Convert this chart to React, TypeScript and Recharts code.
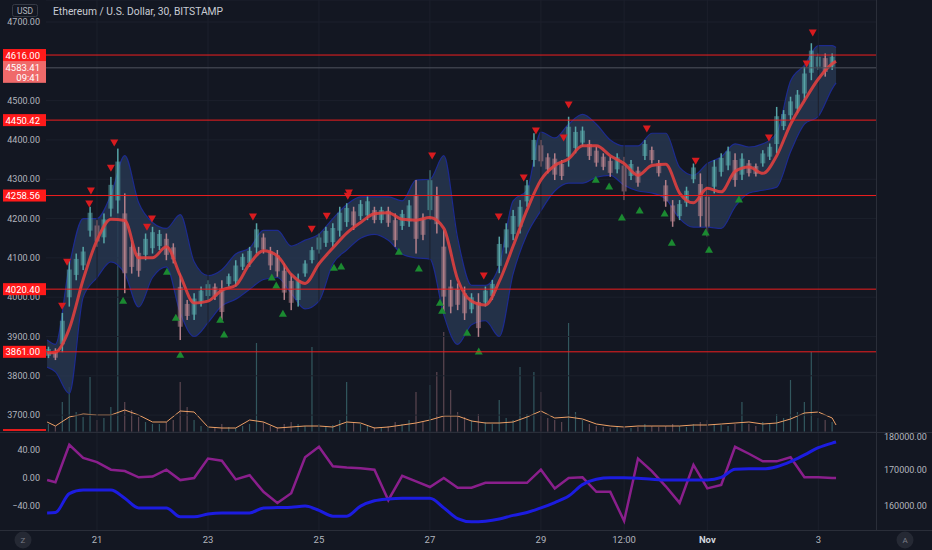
import * as React from 'react';
import {
    ComposedChart,
    Bar,
    Line,
    Area,
    Scatter,
    XAxis,
    YAxis,
    CartesianGrid,
    ReferenceLine
} from 'recharts';

// time axis: days counted from Oct 20 00:00
const timeTicks = [1, 3, 5, 7, 9, 10.5, 12, 14];
const timeLabels = ['21', '23', '25', '27', '29', '12:00', 'Nov', '3'];
const priceTicks = [3700, 3800, 3900, 4000, 4100, 4200, 4300, 4400, 4500, 4700];
const levels = [4616, 4450.42, 4258.56, 4020.4, 3861];
const lastPrice = 4583.41;

// candles every 3h (high / low) and volume
const candleHigh = [
    3874, 3870, 3960, 4094, 4111, 4128, 4230, 4196, 4213, 4306,
    4378, 4264, 4145, 4128, 4162, 4179, 4171, 4162, 4137, 4060,
    3993, 4010, 4027, 4043, 4035, 4043, 4060, 4094, 4111, 4128,
    4188, 4162, 4128, 4120, 4086, 4060, 4060, 4094, 4128, 4162,
    4179, 4188, 4230, 4239, 4230, 4247, 4256, 4230, 4230, 4230,
    4213, 4222, 4247, 4298, 4213, 4323, 4281, 4171, 4044, 4035,
    4027, 4010, 4010, 4027, 4044, 4154, 4188, 4222, 4247, 4298,
    4417, 4400, 4366, 4366, 4349, 4459, 4434, 4434, 4400, 4383,
    4366, 4357, 4366, 4357, 4349, 4332, 4400, 4383, 4349, 4298,
    4247, 4247, 4281, 4340, 4315, 4281, 4349, 4366, 4383, 4366,
    4366, 4349, 4340, 4374, 4391, 4484, 4476, 4510, 4527, 4586,
    4646, 4620, 4620, 4620
];
const candleLow = [
    3845, 3840, 3860, 3976, 4043, 4069, 4154, 4128, 4137, 4205,
    4213, 4010, 4060, 4052, 4094, 4111, 4120, 4094, 4086, 3891,
    3942, 3942, 3976, 3993, 3993, 3942, 4027, 4027, 4069, 4077,
    4111, 4111, 4069, 4052, 3993, 3967, 3976, 4052, 4086, 4111,
    4128, 4128, 4154, 4179, 4171, 4196, 4196, 4188, 4188, 4179,
    4128, 4171, 4179, 4111, 4145, 4196, 4162, 3959, 3959, 3967,
    3942, 3959, 3899, 3976, 3993, 4061, 4111, 4145, 4162, 4230,
    4332, 4332, 4315, 4298, 4298, 4332, 4366, 4383, 4349, 4332,
    4323, 4306, 4315, 4247, 4298, 4281, 4349, 4340, 4307, 4230,
    4179, 4196, 4230, 4290, 4179, 4154, 4264, 4307, 4323, 4281,
    4298, 4307, 4307, 4332, 4349, 4366, 4425, 4451, 4468, 4501,
    4552, 4578, 4561, 4578
];
const volume = [
    8, 6, 30, 45, 20, 15, 55, 12, 14, 25,
    270, 30, 22, 15, 10, 8, 8, 10, 12, 50,
    25, 12, 6, 5, 4, 8, 5, 4, 6, 8,
    89, 10, 6, 5, 8, 10, 8, 6, 85, 8,
    6, 7, 12, 50, 10, 8, 6, 5, 4, 6,
    10, 8, 12, 40, 10, 47, 60, 100, 42, 20,
    15, 12, 18, 10, 8, 32, 14, 12, 65, 18,
    60, 40, 14, 12, 10, 109, 20, 12, 8, 6,
    5, 4, 5, 6, 4, 5, 8, 6, 5, 6,
    8, 6, 5, 8, 10, 12, 8, 7, 6, 8,
    30, 8, 6, 10, 8, 18, 14, 52, 20, 30,
    80, 14, 12, 10
];

// smoother series every 6h
const smoothDays = [0.1, ...Array.from({ length: 57 }, (_, i) => 0.25 * (i + 1)), 14.32];
const maLine = [
    3858, 3860, 3920, 4045, 4145, 4198, 4195, 4100, 4100, 4128,
    4055, 3985, 3990, 4018, 4030, 4085, 4118, 4105, 4058, 4035,
    4085, 4125, 4163, 4190, 4212, 4215, 4198, 4196, 4203, 4175,
    4045, 3990, 3980, 4040, 4130, 4222, 4298, 4335, 4352, 4385,
    4385, 4360, 4340, 4310, 4335, 4338, 4265, 4240, 4277, 4268,
    4320, 4331, 4315, 4360, 4440, 4500, 4555, 4594, 4600
];
const bandUpper = [
    3891, 3880, 4080, 4200, 4200, 4260, 4360, 4240, 4190, 4175,
    4210, 4090, 4055, 4070, 4110, 4125, 4170, 4170, 4130, 4145,
    4160, 4200, 4235, 4255, 4255, 4255, 4245, 4298, 4300, 4360,
    4150, 4030, 4030, 4080, 4245, 4272, 4420, 4405, 4440, 4465,
    4440, 4400, 4385, 4385, 4417, 4417, 4330, 4310, 4340, 4357,
    4390, 4382, 4390, 4417, 4550, 4590, 4640, 4640, 4635
];
const bandLower = [
    3822, 3810, 3755, 4000, 4050, 4090, 4060, 3975, 4050, 4077,
    3960, 3900, 3935, 3978, 3995, 4020, 4045, 4050, 4010, 3970,
    3990, 4085, 4120, 4150, 4160, 4145, 4110, 4100, 4097, 3955,
    3880, 3930, 3940, 3900, 4060, 4160, 4220, 4270, 4290, 4290,
    4305, 4310, 4285, 4270, 4265, 4250, 4200, 4178, 4178, 4175,
    4230, 4265, 4272, 4280, 4370, 4440, 4460, 4530, 4545
];
const volumeMa = [
    10, 6, 15, 18, 17, 17, 22, 17, 10, 10,
    21, 20, 5, 4, 4, 12, 10, 4, 5, 6,
    6, 5, 10, 9, 4, 5, 7, 9, 12, 16,
    16, 11, 9, 9, 10, 15, 21, 14, 15, 13,
    8, 6, 5, 6, 6, 6, 6, 7, 7, 8,
    9, 10, 8, 9, 13, 19, 20, 14, 7
];
const oscValues = [
    -3, -6, 48, 29, 23, 12, 10, 1, 2, 12,
    -3, 0, 28, 25, -2, 4, -20, -36, -22, 30,
    45, 17, 15, 14, 12, -32, 3, -5, -13, 0,
    -14, -14, -7, -7, -7, -7, 12, -15, 0, 1,
    -20, -20, -62, 28, 10, -12, -36, 19, -15, -10,
    45, 35, 24, 24, 30, 1, 1, 0, 0
];
const cumValues = [
    158100, 158200, 163500, 164500, 164500, 164500, 162200, 159500, 159500, 159500,
    157000, 157000, 157800, 158100, 158100, 158100, 159500, 159600, 159700, 160000,
    158800, 157200, 157200, 160000, 161500, 162000, 162200, 162200, 162200, 159500,
    156500, 155600, 155800, 156400, 157400, 158200, 159500, 161000, 162800, 166000,
    167500, 167900, 167900, 167800, 167500, 167300, 167300, 167300, 167300, 168000,
    170300, 170400, 170400, 171000, 172400, 174300, 176300, 177600, 177900
];

// signal markers [day, price]
const sellSignals = [
    [0.37, 3977], [0.46, 4089], [0.86, 4237], [0.89, 4270], [1.25, 4328],
    [1.31, 4392], [1.9, 4178], [1.99, 4199], [3.81, 4204], [4.87, 4173],
    [5.14, 4206], [5.52, 4257], [5.54, 4265], [7.04, 4359], [7.97, 4054],
    [8.24, 4204], [8.69, 4303], [8.91, 4423], [9.41, 4405], [9.5, 4489],
    [10.91, 4428], [11.79, 4346], [13.11, 4405], [13.79, 4593], [13.9, 4672]
];
const buySignals = [
    [1.47, 3992], [2.26, 4066], [2.42, 3949], [2.5, 3855], [3.22, 3944],
    [3.29, 3906], [4.15, 4051], [4.23, 4031], [4.35, 3959], [5.27, 4076],
    [5.4, 4079], [6.44, 4117], [6.8, 4074], [7.18, 3987], [7.22, 3967],
    [7.67, 3911], [7.88, 3863], [9.99, 4300], [10.23, 4283], [10.46, 4204],
    [10.78, 4222], [11.23, 4214], [11.36, 4140], [11.97, 4166], [12.03, 4122],
    [12.57, 4250]
];

const BG = '#131722';
const TEXT = '#b2b5be';
const GRID = '#1c202c';
const UP = '#58a6a8';
const DOWN = '#b3808a';
const X_DOMAIN = [0.08, 15.04];
const P_DOMAIN = [3657, 4756];
const FONT = 'Roboto, "Noto Sans", sans-serif';

const candleRows = candleHigh.map((hi, i) => {
    const lo = candleLow[i];
    const prevMid = i ? (candleHigh[i - 1] + candleLow[i - 1]) / 2 : lo;
    return { d: 0.125 * (i + 1), rng: [lo, hi], vol: volume[i], up: (hi + lo) / 2 >= prevMid };
});

const smoothRows = smoothDays.map((d, i) => ({
    d,
    ma: maLine[i],
    band: [bandLower[i], bandUpper[i]],
    volMa: volumeMa[i],
    osc: oscValues[i],
    cum: cumValues[i]
}));

const sellRows = sellSignals.map(([d, p]) => ({ d, p }));
const buyRows = buySignals.map(([d, p]) => ({ d, p }));

// a candle drawn as a soft body with a thin wick on top of it
const Candle = (props: any) => {
    const { x, y, width, height, payload } = props;
    const top = height < 0 ? y + height : y;
    const h = Math.max(Math.abs(height), 1);
    const cx = x + width / 2;
    const fill = payload.up ? UP : DOWN;
    return (
        <g>
            <rect x={cx - 2.5} y={top + h * 0.2} width={5} height={h * 0.6} fill={fill} fillOpacity={0.55} />
            <rect x={cx - 0.75} y={top} width={1.5} height={h} fill={fill} />
        </g>
    );
};

const VolBar = (props: any) => {
    const { x, y, width, height, payload } = props;
    return (
        <rect
            x={x + width / 2 - 0.6}
            y={y}
            width={1.2}
            height={Math.max(height, 0)}
            fill={payload.up ? UP : DOWN}
            fillOpacity={0.45}
        />
    );
};

const TriDown = (props: any) => {
    const { cx, cy } = props;
    return <path d={`M${cx - 4},${cy - 3.5}L${cx + 4},${cy - 3.5}L${cx},${cy + 3.5}Z`} fill="#d81b1f" />;
};

const TriUp = (props: any) => {
    const { cx, cy } = props;
    return <path d={`M${cx - 4},${cy + 3.5}L${cx + 4},${cy + 3.5}L${cx},${cy - 3.5}Z`} fill="#1b8a31" />;
};

const LevelTag = (props: any) => {
    const y = props.viewBox.y;
    return (
        <g>
            <rect x={3} y={y - 6} width={43} height={12} fill="#ff1a1a" />
            <text x={40} y={y + 3.5} fill="#fff" fontSize={9.5} textAnchor="end">
                {props.text}
            </text>
        </g>
    );
};

const LastTag = (props: any) => {
    const y = props.viewBox.y;
    return (
        <g>
            <rect x={3} y={y - 8} width={43} height={23} fill="#ef6a6a" />
            <text x={40} y={y + 3} fill="#fff" fontSize={9.5} textAnchor="end">
                {props.text}
            </text>
            <text x={40} y={y + 13} fill="#fff" fontSize={9.5} textAnchor="end">
                09:41
            </text>
        </g>
    );
};

const TimeTick = (props: any) => {
    const { x, y, payload } = props;
    const label = timeLabels[timeTicks.indexOf(payload.value)];
    return (
        <text
            x={x}
            y={y}
            dy="0.71em"
            textAnchor="middle"
            fill={label === 'Nov' ? '#d1d4dc' : TEXT}
            fontWeight={label === 'Nov' ? 700 : 400}
            fontSize={9.5}
        >
            {label}
        </text>
    );
};

const fmtOsc = (v: number) => (v < 0 ? '\u2212' : '') + Math.abs(v).toFixed(2);

const layer: React.CSSProperties = { position: 'absolute', left: 0, top: 0 };

const App = () => {
    return (
        <div
            style={{
                position: 'fixed',
                left: 0,
                top: 0,
                width: 932,
                height: 550,
                background: BG,
                fontFamily: FONT,
                overflow: 'hidden'
            }}
        >
            {/* volume layer */}
            <div style={layer}>
                <ComposedChart width={932} height={432} data={candleRows} margin={{ top: 0, right: 56, bottom: 0, left: 46 }}>
                    <XAxis type="number" dataKey="d" domain={X_DOMAIN} hide allowDataOverflow />
                    <YAxis hide domain={[0, 432]} allowDataOverflow />
                    <Bar dataKey="vol" barSize={2} shape={VolBar} isAnimationActive={false} />
                    <Line
                        data={smoothRows}
                        dataKey="volMa"
                        type="linear"
                        stroke="#eda066"
                        strokeWidth={1}
                        dot={false}
                        isAnimationActive={false}
                    />
                </ComposedChart>
            </div>

            {/* price layer */}
            <div style={layer}>
                <ComposedChart width={932} height={432} data={candleRows} margin={{ top: 0, right: 56, bottom: 0, left: 0 }}>
                    <CartesianGrid yAxisId="p" vertical={false} stroke={GRID} />
                    <XAxis type="number" dataKey="d" domain={X_DOMAIN} hide allowDataOverflow />
                    <YAxis
                        yAxisId="p"
                        width={46}
                        domain={P_DOMAIN}
                        ticks={priceTicks}
                        tickFormatter={(v: number) => v.toFixed(2)}
                        axisLine={false}
                        tickLine={false}
                        tickMargin={0}
                        tick={{ fill: TEXT, fontSize: 9 }}
                        allowDataOverflow
                    />
                    {timeTicks.map(t => (
                        <ReferenceLine key={t} yAxisId="p" x={t} stroke={GRID} />
                    ))}
                    <Area
                        yAxisId="p"
                        data={smoothRows}
                        dataKey="band"
                        type="monotone"
                        fill="#283852"
                        fillOpacity={0.8}
                        stroke="#1d2b8f"
                        strokeWidth={1.2}
                        isAnimationActive={false}
                    />
                    <Bar yAxisId="p" dataKey="rng" barSize={3} shape={Candle} isAnimationActive={false} />
                    <Line
                        yAxisId="p"
                        data={smoothRows}
                        dataKey="ma"
                        type="monotone"
                        stroke="#e2403f"
                        strokeWidth={3}
                        strokeOpacity={0.88}
                        dot={false}
                        isAnimationActive={false}
                    />
                    <Scatter yAxisId="p" data={sellRows} dataKey="p" shape={TriDown} isAnimationActive={false} />
                    <Scatter yAxisId="p" data={buyRows} dataKey="p" shape={TriUp} isAnimationActive={false} />
                </ComposedChart>
            </div>

            {/* level lines and price tags */}
            <div style={layer}>
                <ComposedChart width={932} height={432} data={candleRows} margin={{ top: 0, right: 56, bottom: 0, left: 46 }}>
                    <XAxis type="number" dataKey="d" domain={X_DOMAIN} hide allowDataOverflow />
                    <YAxis yAxisId="p" hide domain={P_DOMAIN} allowDataOverflow />
                    <ReferenceLine
                        yAxisId="p"
                        y={lastPrice}
                        stroke="#50545f"
                        label={<LastTag text={lastPrice.toFixed(2)} />}
                    />
                    {levels.map(l => (
                        <ReferenceLine
                            key={l}
                            yAxisId="p"
                            y={l}
                            stroke="#f01e1e"
                            strokeWidth={1}
                            label={<LevelTag text={l.toFixed(2)} />}
                        />
                    ))}
                </ComposedChart>
            </div>

            {/* indicator pane */}
            <div style={{ position: 'absolute', left: 0, top: 432 }}>
                <ComposedChart width={932} height={118} data={smoothRows} margin={{ top: 0, right: 0, bottom: 0, left: 0 }}>
                    <XAxis
                        type="number"
                        dataKey="d"
                        domain={X_DOMAIN}
                        ticks={timeTicks}
                        interval={0}
                        height={20}
                        axisLine={false}
                        tickLine={false}
                        tickMargin={0}
                        tick={<TimeTick />}
                        allowDataOverflow
                    />
                    <YAxis
                        yAxisId="osc"
                        width={46}
                        domain={[-75.1, 66.4]}
                        ticks={[-40, 0, 40]}
                        tickFormatter={fmtOsc}
                        axisLine={false}
                        tickLine={false}
                        tickMargin={0}
                        tick={{ fill: TEXT, fontSize: 9 }}
                        allowDataOverflow
                    />
                    <YAxis
                        yAxisId="cum"
                        orientation="right"
                        width={56}
                        domain={[153326, 180697]}
                        ticks={[160000, 170000, 180000]}
                        tickFormatter={(v: number) => v.toFixed(2)}
                        axisLine={false}
                        tickLine={false}
                        tickMargin={2}
                        tick={{ fill: TEXT, fontSize: 9 }}
                        allowDataOverflow
                    />
                    {timeTicks.map(t => (
                        <ReferenceLine key={t} yAxisId="osc" x={t} stroke={GRID} />
                    ))}
                    <Line
                        yAxisId="osc"
                        dataKey="osc"
                        type="linear"
                        stroke="#8a1f8c"
                        strokeWidth={2.5}
                        dot={false}
                        isAnimationActive={false}
                    />
                    <Line
                        yAxisId="cum"
                        dataKey="cum"
                        type="monotone"
                        stroke="#1c1ce0"
                        strokeWidth={3}
                        dot={false}
                        isAnimationActive={false}
                    />
                </ComposedChart>
            </div>

            {/* chrome: header, separators, buttons */}
            <svg width={932} height={550} style={{ position: 'absolute', left: 0, top: 0, pointerEvents: 'none' }}>
                <rect x={12.5} y={4.5} width={25} height={12} rx={2} fill={BG} stroke="#363a45" />
                <text x={25} y={13.8} fontSize={8.5} fill={TEXT} textAnchor="middle">
                    USD
                </text>
                <text x={53} y={15} fontSize={10.3} fill="#c9ccd4">
                    Ethereum / U.S. Dollar, 30, BITSTAMP
                </text>
                <rect x={3} y={429} width={43} height={2} fill="#e31b1b" />
                <line x1={0} x2={932} y1={432.5} y2={432.5} stroke="#2a2e39" />
                <line x1={0} x2={932} y1={530.5} y2={530.5} stroke="#2a2e39" />
                <line x1={876.5} x2={876.5} y1={0} y2={530} stroke="#2a2e39" />
                <circle cx={23} cy={540} r={8.5} fill="#252934" />
                <text x={23} y={543} fontSize={8} fill="#787b86" textAnchor="middle">
                    Z
                </text>
                <circle cx={905} cy={540} r={8.5} fill="#252934" />
                <text x={905} y={543} fontSize={8} fill="#787b86" textAnchor="middle">
                    A
                </text>
            </svg>
        </div>
    );
};

export default App;
